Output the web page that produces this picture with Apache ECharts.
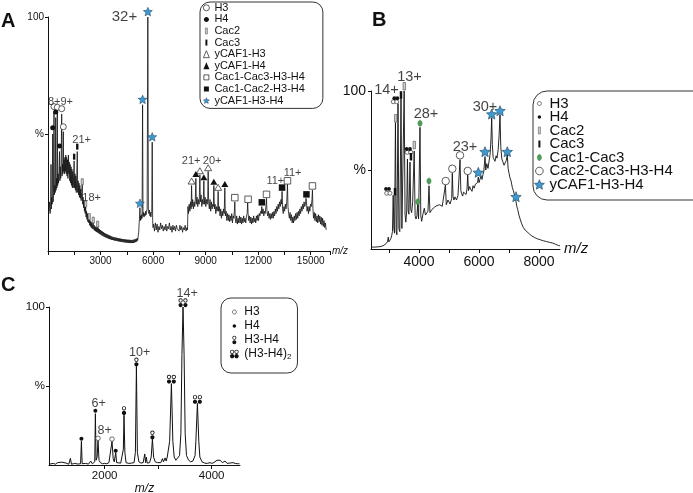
<!DOCTYPE html>
<html><head><meta charset="utf-8">
<script src="https://cdn.jsdelivr.net/npm/echarts@6/dist/echarts.min.js"></script>
<style>html,body{margin:0;padding:0;background:#fff}#c{width:693px;height:493px}</style>
</head><body><div id="c"></div>
<script>
const FONT = '"Liberation Sans", Arial, Helvetica, sans-serif';

// ---------------- Panel A data ----------------
const specA = [
[60,17],[90,21],[120,16],[150,19],[171,37],[190,18],[215,23],[240,20],[268,50],[290,21],[315,25],[342,59.5],[365,24],[390,28],[415,25],[439,57],[460,26],[485,31],[508,27],[530,59],[552,28],[575,33],[600,29],[628,34],[656,42.5],[678,30],[700,36],[725,31],[750,37],[781,58.5],[802,32],[825,37],[850,33],[873,51],[895,34],[918,39],[940,33],[965,40],[990,34],[1015,41],[1040,33],[1065,40],[1090,32],[1115,39],[1140,31],[1165,41],[1190,33],[1215,38],[1240,30],[1265,37],[1290,29],[1315,36],[1340,28],[1365,35],[1390,27],[1415,34],[1440,27],[1465,33],[1494,38.5],[1515,27],[1540,33],[1565,26],[1590,32],[1615,25],[1640,31],[1671,42.5],[1695,25],[1720,30],[1745,24],[1770,29],[1795,23],[1820,28],[1845,22.5],[1870,26.5],[1895,21.5],[1920,25],[1956,28.5],[1980,20],[2005,23],[2030,18.5],[2055,21.5],[2080,17],[2105,20],[2125,16],[2150,19],[2175,14.5],[2200,17],[2225,13.5],[2250,16],[2275,12.5],[2300,15],[2325,12],[2356,14],[2380,11],[2405,13],[2430,10.5],[2455,12.5],[2480,10],[2505,12],[2530,9.5],[2555,11.5],[2584,13],[2610,9.2],[2635,11],[2660,8.8],[2685,10.5],[2710,8.5],[2735,10.2],[2760,8.2],[2785,10],[2810,8],[2835,11.5],[2860,7.8],[2885,9.6],[2910,7.5],[2935,9.3],[2960,7.2],[2990,9],[3020,7],[3050,8.6],[3080,6.6],[3110,8.3],[3140,6.4],[3170,8],[3200,6.1],[3230,7.7],[3260,5.9],[3290,7.4],[3320,5.7],[3350,7.2],[3380,5.5],[3410,7],[3440,5.3],[3470,6.8],[3500,5.1],[3530,6.6],[3560,5],[3590,6.4],[3620,4.8],[3650,6.2],[3680,4.7],[3710,6],[3740,4.6],[3770,5.9],[3800,4.5],[3830,5.8],[3860,4.4],[3890,5.7],[3920,4.3],[3950,5.6],[3980,4.2],[4010,5.5],[4040,4.1],[4070,5.4],[4100,4],[4130,5.3],[4160,3.9],[4190,5.2],[4220,3.8],[4250,5.1],[4280,3.8],[4310,5],[4340,3.7],[4370,5],[4400,3.6],[4430,4.9],[4460,3.6],[4490,4.9],[4520,3.5],[4550,4.8],[4580,3.5],[4610,4.8],[4640,3.4],[4670,4.8],[4700,3.4],[4730,4.7],[4760,3.4],[4790,4.7],[4820,3.4],[4850,4.8],[4880,3.5],[4910,4.9],[4940,3.6],[4970,5],[5000,3.8],[5030,5.2],[5060,4],[5090,5.5],[5120,4.5],[5150,6.5],[5180,8],[5205,12],[5225,14],[5248,18.5],[5270,13],[5295,15],[5320,13.5],[5345,15.5],[5370,14],[5400,62.5],[5425,15],[5450,16.5],[5480,14.5],[5510,16],[5540,15],[5570,17],[5600,15.5],[5630,17],[5660,18],[5700,100],[5730,17],[5760,16],[5790,17.5],[5820,15],[5850,16.5],[5875,14.5],[5900,16],[5925,17],[5950,46.5],[5975,13],[5995,10],
[6030,11.5],[6080,8.5],[6130,12],[6180,9],[6230,11.5],[6280,8],[6330,10.5],[6380,9],[6430,12],[6480,9.5],[6530,11],[6580,8.5],[6630,10.5],[6680,9],[6730,11.5],[6780,8.5],[6830,10.5],[6880,9.5],[6930,12],[6980,9],[7030,10.5],[7080,8],[7130,11],[7180,9],[7230,10.5],[7280,8.5],[7330,11],[7380,9.5],[7430,10],[7480,8.5],[7530,11],[7580,9],[7630,10.5],[7680,8],[7730,10],[7780,9],[7830,11],[7880,8.5],[7930,10],[7965,9],
[7990,19],[8020,16],[8060,20],[8100,17],[8140,21],[8170,18],[8197,28],[8225,19],[8260,22],[8300,18],[8340,21],[8380,19],[8410,22],[8442,31],[8470,20],[8510,23],[8550,19],[8590,22],[8630,20],[8670,32.5],[8700,21],[8740,24],[8780,19],[8820,22],[8860,20],[8898,30],[8930,20],[8970,23],[9010,19],[9050,22],[9090,20],[9120,23],[9144,34],[9170,21],[9210,18],[9250,22],[9290,17],[9330,21],[9370,18],[9410,20],[9440,19],[9468,28],[9500,18],[9540,20],[9580,16],[9620,19],[9660,17],[9690,19],[9714,25.5],[9740,17],[9780,19],[9820,15],[9860,18],[9900,14],[9940,17],[9980,15],[10020,18],[10060,16],[10096,27],[10125,15],[10170,17],[10210,13],[10250,16],[10290,13],[10330,15.5],[10370,12.5],[10410,15],[10450,13],[10490,16],[10530,12],[10570,15],[10610,14],[10640,17],[10666,21],[10690,14],[10730,12],[10770,15],[10810,11.5],[10850,14],[10890,12],[10930,15],[10970,12],[11010,14.5],[11050,11.5],[11090,14],[11130,12],[11170,15],[11210,12.5],[11250,14],[11290,12],[11330,15],[11370,16],[11400,20.5],[11425,16],[11460,13],[11500,15],[11540,12],[11580,14.5],[11620,11.5],[11660,14],[11700,12],[11740,15],[11780,12.5],[11820,14],[11860,12],[11900,15],[11940,13],[11980,15.5],[12020,13],[12060,16],[12100,15],[12140,17],[12180,16],[12206,19],[12240,16],[12280,18],[12320,15],[12360,17],[12400,16],[12440,19],[12474,22.5],[12500,17],[12540,15],[12580,17],[12620,14],[12660,16],[12700,13.5],[12740,16],[12780,14],[12820,16.5],[12860,14],[12900,17],[12940,15],[12980,18],[13020,16],[13060,19],[13100,17],[13140,20],[13180,18],[13220,21],[13260,19],[13300,22],[13340,20],[13364,25.5],[13390,18],[13430,16],[13470,19],[13510,17],[13550,20],[13590,18],[13630,21],[13672,28.5],[13700,19],[13740,16],[13780,14],[13820,16.5],[13860,13],[13900,15.5],[13940,12],[13980,14.5],[14020,12],[14060,15],[14100,13],[14140,16],[14180,13.5],[14220,16.5],[14260,14],[14300,17],[14340,15],[14380,18],[14420,16],[14460,19],[14500,17],[14540,20],[14580,18],[14620,21],[14660,19],[14700,20],[14730,22.5],[14756,21],[14790,17],[14830,19],[14870,16],[14910,19],[14950,17],[14990,20],[15030,19],[15070,22],[15098,26],[15125,18],[15160,14],[15200,16.5],[15240,13],[15280,16],[15320,12.5],[15360,15],[15400,12],[15440,15.5],[15480,12.5],[15520,15],[15560,11.5],[15600,14.5],[15640,11],[15680,14],[15720,10.5],[15760,13],[15800,10],[15840,12],[15880,9]
];
const aH3 = [[342,61.7],[530,61.4],[781,60.8],[873,53.1]];
const aH4 = [[268,52.7],[439,59.4],[656,44.9]];
const aCac2 = [[1956,29.6],[2150,20.1],[2356,14.7],[2584,13.2],[2835,11.5]];
const aCac3 = [[1494,40.3],[1671,44.6]];
const aYH3 = [[8197,29.9],[8670,34.3],[9144,35.6],[9714,27.2]];
const aYH4 = [[8442,32.9],[8898,31.5],[9468,29.6],[10096,28.6]];
const aC13 = [[10666,22.8],[11425,22.1],[12474,24.2],[13672,30],[15098,27.8]];
const aC12 = [[12206,20.8],[13364,27.1],[14756,24.2]];
const aStar = [[5248,20.4],[5400,64.8],[5700,102.3],[5950,48.8]];
const aLabels = [[713,63.7,'8+9+'],[1922,47.4,'21+'],[2493,22.6,'18+'],[8174,38.5,'21+'],[9372,38.5,'20+'],[12977,29.9,'11+'],[13963,33.2,'11+']];
const aLabelsBig = [[4364,100,'32+']];

// ---------------- Panel B data ----------------
const specB = [
[2400,1.2],[2500,1.2],[2600,1.3],[2700,1.5],[2780,1.9],[2850,2.5],[2910,3.2],[2950,4.5],[2975,7.5],[2995,4.5],[3025,5],[3060,6.5],[3090,8.5],[3115,11],[3140,34],[3160,13],[3185,10],[3215,80],[3240,11],[3265,9],[3300,92],[3330,13],[3360,11],[3400,96],[3430,13],[3465,12],[3505,100],[3535,22],[3560,17],[3590,24],[3615,57],[3640,24],[3665,22],[3700,55],[3725,25],[3755,23],[3790,30],[3840,62],[3870,21],[3900,19],[3930,21],[3957,28.5],[3985,19],[4005,20],[4033,77],[4060,21],[4090,17.5],[4130,22],[4177,25.8],[4215,21.5],[4257,22.6],[4300,24],[4333,40],[4365,23],[4390,22],[4430,25],[4477,24.5],[4520,26.5],[4557,25.8],[4600,27.5],[4643,26.5],[4690,28],[4733,29],[4775,27],[4810,26.5],[4840,28],[4880,40.5],[4910,28],[4933,29],[4965,31],[5000,31],[5035,28.5],[5067,29],[5090,32],[5110,48],[5135,33],[5165,31],[5200,33],[5250,31],[5300,34],[5335,35],[5367,56.5],[5395,37],[5423,35],[5455,33.5],[5483,36],[5533,37],[5570,34.5],[5600,38],[5623,47],[5650,37],[5690,39.5],[5717,38],[5767,36.5],[5800,40],[5840,38.5],[5880,41],[5923,40],[5950,42],[5977,45.5],[6000,42],[6030,44],[6067,46],[6100,44],[6130,47],[6160,49],[6200,58.5],[6225,50],[6260,54],[6300,51],[6333,52],[6370,60],[6400,70],[6423,83],[6445,66],[6470,58],[6500,57],[6533,55.5],[6570,59],[6600,57.5],[6640,63],[6670,72],[6700,85],[6725,65],[6760,57],[6800,55],[6835,53],[6870,54.5],[6910,56],[6943,59.5],[6970,51],[7000,48],[7033,45],[7070,43],[7110,39],[7143,37],[7180,34.5],[7215,32],[7233,31],[7260,27],[7290,25],[7330,21.5],[7370,19],[7423,16],[7480,13.5],[7540,12],[7600,10.8],[7680,9.5],[7760,8.3],[7850,7.3],[7950,6.4],[8050,5.8],[8150,5.2],[8250,4.7],[8350,4.2],[8450,3.8],[8550,3],[8650,2.2],[8700,2]
];
const bH3 = [[2923,35.3],[3033,35.3],[3143,93.2],[3257,93.2],[3610,61.2],[3723,61.2]];
const bH4 = [[2900,38],[3000,38],[3177,95.4],[3277,95.4],[3590,63.3],[3700,63.3]];
const bCac2 = [[3223,82.7],[3510,103],[3843,65.8]];
const bCac3 = [[3200,36.3],[3400,97.5],[3733,58.4]];
const bC13 = [[3957,29.9],[4033,79.6],[4333,43]];
const bC23 = [[4890,43],[5110,50.8],[5367,59.3],[5623,49.4]];
const bStar = [[5977,48.5],[6200,61.6],[6423,85.4],[6700,87.5],[6943,61.6],[7233,33.1]];
const bLabels = [[2917,100.6,'14+'],[3683,108.9,'13+'],[4233,85.4,'28+'],[5533,64.6,'23+'],[6200,89.9,'30+']];

// ---------------- Panel C data ----------------
const specC = [
[960,0.5],[1040,1],[1080,0.5],[1120,1.5],[1150,0.5],[1200,1.8],[1230,0.6],[1280,1.2],[1330,0.5],[1360,4.2],[1380,0.5],[1440,1],[1500,0.6],[1550,0.8],[1566,15],[1580,0.8],[1640,1],[1700,0.6],[1740,2.5],[1770,0.8],[1800,1.2],[1815,2],[1827,32.5],[1840,3],[1860,5],[1876,15.5],[1895,3],[1920,1.5],[1960,0.8],[2000,1],[2040,0.8],[2080,1.5],[2110,2.5],[2138,15],[2160,4],[2180,2],[2207,7.8],[2225,1.5],[2260,1],[2300,1.2],[2330,2],[2350,10],[2362,31.5],[2378,8],[2400,1.5],[2450,1],[2500,1.2],[2550,1.5],[2575,8],[2594,62.5],[2612,8],[2640,2],[2680,1.2],[2720,1.5],[2750,7],[2765,1.5],[2780,5],[2795,1.2],[2840,1.5],[2870,5],[2893,16.5],[2915,5],[2945,2],[2990,1.5],[3020,2.5],[3050,1.5],[3080,4],[3100,2],[3130,4.5],[3150,2.5],[3170,5],[3195,5],[3215,15],[3248,51.5],[3275,15],[3300,5],[3330,3],[3360,4],[3400,6],[3425,20],[3445,70],[3465,100],[3485,70],[3505,20],[3530,6],[3570,3],[3610,2],[3650,2.5],[3690,6],[3705,15],[3734,39],[3760,15],[3780,5],[3820,2],[3870,1.2],[3920,1],[3970,1.5],[4010,1],[4060,2],[4100,3],[4130,1.8],[4160,3],[4200,1.5],[4250,2.5],[4290,1],[4330,1.2],[4360,2.2],[4400,1.5],[4440,1],[4480,0.8],[4520,0.8]
];
const cH3 = [[1876,16.9],[2138,16.4]];
const cH4 = [[1566,16.6],[1827,34.3],[2207,9]];
const cH3H4 = [[2362,34.4],[2594,65.2],[2893,19]];
const cH3H4x2 = [[3248,54.3],[3465,102.7],[3734,41.5]];
const cLabels = [[1889,39.2,'6+'],[2001,22.1,'8+'],[2655,70.9,'10+'],[3543,108.8,'14+']];

// ---------------- symbol geometry helpers ----------------
function ell(cx, cy, rx, ry, ccw) {
  const kx = 0.5523 * rx, ky = 0.5523 * ry;
  const P = (x, y) => (+x.toFixed(3)) + ',' + (+y.toFixed(3));
  if (!ccw) return 'M' + P(cx + rx, cy) + ' C' + P(cx + rx, cy + ky) + ' ' + P(cx + kx, cy + ry) + ' ' + P(cx, cy + ry) +
    ' C' + P(cx - kx, cy + ry) + ' ' + P(cx - rx, cy + ky) + ' ' + P(cx - rx, cy) +
    ' C' + P(cx - rx, cy - ky) + ' ' + P(cx - kx, cy - ry) + ' ' + P(cx, cy - ry) +
    ' C' + P(cx + kx, cy - ry) + ' ' + P(cx + rx, cy - ky) + ' ' + P(cx + rx, cy) + ' Z';
  return 'M' + P(cx + rx, cy) + ' C' + P(cx + rx, cy - ky) + ' ' + P(cx + kx, cy - ry) + ' ' + P(cx, cy - ry) +
    ' C' + P(cx - kx, cy - ry) + ' ' + P(cx - rx, cy - ky) + ' ' + P(cx - rx, cy) +
    ' C' + P(cx - rx, cy + ky) + ' ' + P(cx - kx, cy + ry) + ' ' + P(cx, cy + ry) +
    ' C' + P(cx + kx, cy + ry) + ' ' + P(cx + rx, cy + ky) + ' ' + P(cx + rx, cy) + ' Z';
}
const disk = (cx, cy, r) => ell(cx, cy, r, r, false);
const ring = (cx, cy, r, t) => ell(cx, cy, r, r, false) + ' ' + ell(cx, cy, r - t, r - t, true);
const pad = (w, h, p) => 'path://M0,0 M' + w + ',' + h + ' ' + p;
function starPath() {
  const pts = [];
  for (let k = 0; k < 10; k++) {
    const a = -Math.PI / 2 + k * Math.PI / 5, r = k % 2 === 0 ? 10 : 4.5;
    pts.push((r * Math.cos(a)).toFixed(3) + ',' + (r * Math.sin(a)).toFixed(3));
  }
  return 'M' + pts.join(' L') + ' Z';
}
const SYM_STAR = 'path://' + starPath();
const SYM_ELL = 'path://' + disk(0, 0, 1);
const SYM_H3H4 = 'path://' + ring(2, 2, 2, 0.8) + ' ' + disk(2, 6.4, 2);
const SYM_H3H4x2 = 'path://' + ring(2, 2, 2, 0.8) + ' ' + ring(6.6, 2, 2, 0.8) + ' ' + disk(2, 6.4, 2) + ' ' + disk(6.6, 6.4, 2);

const BLUE = '#3d9ad1', BLUE_E = '#1b3f5e', GREEN = '#4f9e55', GREEN_E = '#2f6e33', INK = '#111';

function sc(name, gi, data, symbol, size, fill, stroke, bw) {
  return { type: 'scatter', name, xAxisIndex: gi, yAxisIndex: gi, data, symbol, symbolSize: size,
    clip: false, silent: true, z: 4, animation: false,
    itemStyle: { color: fill, borderColor: stroke || fill, borderWidth: bw || 0, opacity: 1 } };
}
function lab(gi, data, size) {
  return { type: 'scatter', xAxisIndex: gi, yAxisIndex: gi, data, symbol: 'circle', symbolSize: 0, clip: false, silent: true, z: 6,
    itemStyle: { color: 'transparent' },
    label: { show: true, position: 'inside', formatter: p => p.value[2], fontSize: size, color: INK, fontFamily: FONT } };
}
function spec(gi, data, w) {
  return { type: 'line', xAxisIndex: gi, yAxisIndex: gi, data, symbol: 'none', showSymbol: false, clip: false, silent: true, z: 2,
    lineStyle: { color: INK, width: w }, animation: false };
}

const lineStyle = { color: INK, width: 1 };
const plain = v => String(v);
function xAx(gi, min, max, fs, extra) {
  return Object.assign({ type: 'value', gridIndex: gi, min, max, splitLine: { show: false },
    axisLine: { lineStyle }, axisTick: { length: 4, lineStyle },
    axisLabel: { fontSize: fs, color: INK, fontFamily: FONT, margin: 5, formatter: plain } }, extra);
}
function yAx(gi, fs, margin) {
  return { type: 'value', gridIndex: gi, min: 0, max: 100, splitLine: { show: false },
    axisLine: { show: true, lineStyle }, axisTick: { show: true, length: 3, lineStyle, customValues: [50, 100] },
    axisLabel: { fontSize: fs, color: INK, fontFamily: FONT, margin, customValues: [50, 100],
      formatter: v => (v === 100 ? '100' : (v === 50 ? '%' : '')) } };
}

const chart = echarts.init(document.getElementById('c'), null, { renderer: 'canvas' });
const fmt = n => n.split('|')[1];
const fmtC = n => { const t = n.split('|')[1]; return t === '(H3-H4)₂' ? '{m|(H3-H4)}{s|2}' : t; };
const open = (bw) => ({ color: '#fff', borderColor: '#333', borderWidth: bw });
const solid = { color: INK, borderWidth: 0 };

chart.setOption({
  animation: false,
  backgroundColor: '#fff',
  title: [
    { text: 'A', left: 1, top: 11, padding: 0, textStyle: { fontSize: 20, fontWeight: 'bold', color: INK, fontFamily: FONT } },
    { text: 'B', left: 372, top: 10, padding: 0, textStyle: { fontSize: 20, fontWeight: 'bold', color: INK, fontFamily: FONT } },
    { text: 'C', left: 1, top: 275, padding: 0, textStyle: { fontSize: 20, fontWeight: 'bold', color: INK, fontFamily: FONT } }
  ],
  grid: [
    { left: 48, top: 17, width: 282, height: 234, outerBoundsMode: 'none', containLabel: false },
    { left: 371, top: 91, width: 189, height: 158, outerBoundsMode: 'none', containLabel: false },
    { left: 49, top: 307, width: 191, height: 158, outerBoundsMode: 'none', containLabel: false }
  ],
  xAxis: [
    xAx(0, 0, 16100, 10, { interval: 1500, name: 'm/z', nameLocation: 'end', nameGap: 2,
      nameTextStyle: { fontSize: 10, fontStyle: 'italic', color: INK, fontFamily: FONT, padding: [0, 0, 7, 0] },
      axisLabel: { fontSize: 10, color: INK, fontFamily: FONT, margin: 5, formatter: v => (v > 0 && v % 3000 === 0 ? String(v) : '') } }),
    xAx(1, 2400, 8700, 14, { name: 'm/z', nameLocation: 'end', nameGap: 4,
      nameTextStyle: { fontSize: 15, fontStyle: 'italic', color: INK, fontFamily: FONT },
      axisTick: { length: 4, lineStyle, customValues: [3000, 4000, 5000, 6000, 7000, 8000] },
      axisLabel: { fontSize: 14, color: INK, fontFamily: FONT, margin: 6, customValues: [4000, 6000, 8000], formatter: plain } }),
    xAx(2, 960, 4530, 11.5, { name: 'm/z', nameLocation: 'middle', nameGap: 16,
      nameTextStyle: { fontSize: 12, fontStyle: 'italic', color: INK, fontFamily: FONT },
      axisTick: { length: 4, lineStyle, customValues: [2000, 3000, 4000] },
      axisLabel: { fontSize: 11.5, color: INK, fontFamily: FONT, margin: 5, customValues: [2000, 4000], formatter: plain } })
  ],
  yAxis: [yAx(0, 10, 4), yAx(1, 14, 5), yAx(2, 11.5, 4)],
  legend: [
    { orient: 'vertical', left: 200, top: 2, padding: [0, 18, 2, 3], itemGap: 0, itemWidth: 6, itemHeight: 7,
      borderColor: '#333', borderWidth: 1, borderRadius: 10, backgroundColor: '#fff', selectedMode: false, symbolKeepAspect: true,
      textStyle: { fontSize: 11, lineHeight: 11.6, color: INK, fontFamily: FONT }, formatter: fmt,
      data: [
        { name: 'A|H3', icon: 'circle', itemStyle: open(0.8) },
        { name: 'A|H4', icon: pad(6, 7, disk(3, 3.5, 2.5)), itemStyle: solid },
        { name: 'A|Cac2', icon: pad(6, 7, 'M2,0.5 L4,0.5 L4,6.5 L2,6.5 Z'), itemStyle: { color: '#ccc', borderColor: '#444', borderWidth: 0.5 } },
        { name: 'A|Cac3', icon: pad(6, 7, 'M2,0.5 L4,0.5 L4,6.5 L2,6.5 Z'), itemStyle: solid },
        { name: 'A|yCAF1-H3', icon: 'triangle', itemStyle: open(0.8) },
        { name: 'A|yCAF1-H4', icon: 'triangle', itemStyle: solid },
        { name: 'A|Cac1-Cac3-H3-H4', icon: pad(6, 7, 'M0.5,1 L5.5,1 L5.5,6 L0.5,6 Z'), itemStyle: open(0.8) },
        { name: 'A|Cac1-Cac2-H3-H4', icon: pad(6, 7, 'M0.5,1 L5.5,1 L5.5,6 L0.5,6 Z'), itemStyle: solid },
        { name: 'A|yCAF1-H3-H4', icon: SYM_STAR, itemStyle: { color: BLUE, borderColor: BLUE_E, borderWidth: 0.5 } }
      ] },
    { orient: 'vertical', left: 533, top: 91, padding: [5, 40, 8, 1], itemGap: -1.5, itemWidth: 10, itemHeight: 10,
      borderColor: '#333', borderWidth: 1, borderRadius: 14, backgroundColor: '#fff', selectedMode: false, symbolKeepAspect: true,
      textStyle: { fontSize: 15, lineHeight: 13.5, color: INK, fontFamily: FONT }, formatter: fmt,
      data: [
        { name: 'B|H3', icon: pad(10, 10, disk(5, 5, 2)), itemStyle: open(0.7) },
        { name: 'B|H4', icon: pad(10, 10, disk(5, 5, 1.7)), itemStyle: solid },
        { name: 'B|Cac2', icon: pad(10, 10, 'M4,1.5 L6,1.5 L6,8.5 L4,8.5 Z'), itemStyle: { color: '#ccc', borderColor: '#444', borderWidth: 0.5 } },
        { name: 'B|Cac3', icon: pad(10, 10, 'M4,1.5 L6,1.5 L6,8.5 L4,8.5 Z'), itemStyle: solid },
        { name: 'B|Cac1-Cac3', icon: pad(10, 10, ell(5, 5, 2, 3, false)), itemStyle: { color: GREEN, borderColor: GREEN_E, borderWidth: 0.5 } },
        { name: 'B|Cac2-Cac3-H3-H4', icon: pad(10, 10, disk(5, 5, 3.8)), itemStyle: open(0.8) },
        { name: 'B|yCAF1-H3-H4', icon: SYM_STAR, itemStyle: { color: BLUE, borderColor: BLUE_E, borderWidth: 0.6 } }
      ] },
    { orient: 'vertical', left: 221, top: 298, padding: [7, 6, 12, 8], itemGap: 0, itemWidth: 10, itemHeight: 10,
      borderColor: '#333', borderWidth: 1, borderRadius: 10, backgroundColor: '#fff', selectedMode: false, symbolKeepAspect: true,
      textStyle: { fontSize: 12, lineHeight: 14, color: INK, fontFamily: FONT,
        rich: { m: { fontSize: 12, lineHeight: 14, color: INK, fontFamily: FONT },
                s: { fontSize: 8, lineHeight: 14, color: INK, fontFamily: FONT, verticalAlign: 'bottom' } } },
      formatter: fmtC,
      data: [
        { name: 'C|H3', icon: pad(10, 10, disk(5, 5, 2)), itemStyle: open(0.7) },
        { name: 'C|H4', icon: pad(10, 10, disk(5, 5, 1.7)), itemStyle: solid },
        { name: 'C|H3-H4', icon: pad(10, 10, ring(5, 2.8, 2, 0.7) + ' ' + disk(5, 7.2, 2)), itemStyle: solid },
        { name: 'C|(H3-H4)₂', icon: pad(10, 10, ring(2.8, 2.8, 2.1, 0.7) + ' ' + ring(7.2, 2.8, 2.1, 0.7) + ' ' + disk(2.8, 7.2, 2.1) + ' ' + disk(7.2, 7.2, 2.1)), itemStyle: solid }
      ] }
  ],
  series: [
    spec(0, specA, 0.8),
    sc('A|H3', 0, aH3, 'circle', 6, '#fff', '#333', 0.8),
    sc('A|H4', 0, aH4, 'circle', 5, INK),
    sc('A|Cac2', 0, aCac2, 'rect', [2.2, 6], '#ccc', '#444', 0.5),
    sc('A|Cac3', 0, aCac3, 'rect', [2.4, 6], INK),
    sc('A|yCAF1-H3', 0, aYH3, 'triangle', [7, 6], '#fff', '#333', 0.8),
    sc('A|yCAF1-H4', 0, aYH4, 'triangle', [7, 6], INK),
    sc('A|Cac1-Cac3-H3-H4', 0, aC13, 'rect', 6.5, '#fff', '#333', 0.8),
    sc('A|Cac1-Cac2-H3-H4', 0, aC12, 'rect', 6.5, INK),
    sc('A|yCAF1-H3-H4', 0, aStar, SYM_STAR, [9, 8.6], BLUE, BLUE_E, 0.5),
    lab(0, aLabels, 11),
    lab(0, aLabelsBig, 15),

    spec(1, specB, 0.9),
    sc('B|H3', 1, bH3, 'circle', 4, '#fff', '#333', 0.7),
    sc('B|H4', 1, bH4, 'circle', 3.8, INK),
    sc('B|Cac2', 1, bCac2, 'rect', [2.5, 7.5], '#ccc', '#444', 0.5),
    sc('B|Cac3', 1, bCac3, 'rect', [2.5, 7.5], INK),
    sc('B|Cac1-Cac3', 1, bC13, SYM_ELL, [4.2, 6.2], GREEN, GREEN_E, 0.4),
    sc('B|Cac2-Cac3-H3-H4', 1, bC23, 'circle', 7.5, '#fff', '#333', 0.8),
    sc('B|yCAF1-H3-H4', 1, bStar, SYM_STAR, [10.5, 10], BLUE, BLUE_E, 0.6),
    lab(1, bLabels, 14.5),

    spec(2, specC, 1),
    sc('C|H3', 2, cH3, 'circle', 4.5, '#fff', '#333', 0.7),
    sc('C|H4', 2, cH4, 'circle', 4, INK),
    sc('C|H3-H4', 2, cH3H4, SYM_H3H4, [4.2, 8.8], INK),
    sc('C|(H3-H4)₂', 2, cH3H4x2, SYM_H3H4x2, [9, 8.8], INK),
    lab(2, cLabels, 12.5)
  ]
});
</script>
</body></html>
